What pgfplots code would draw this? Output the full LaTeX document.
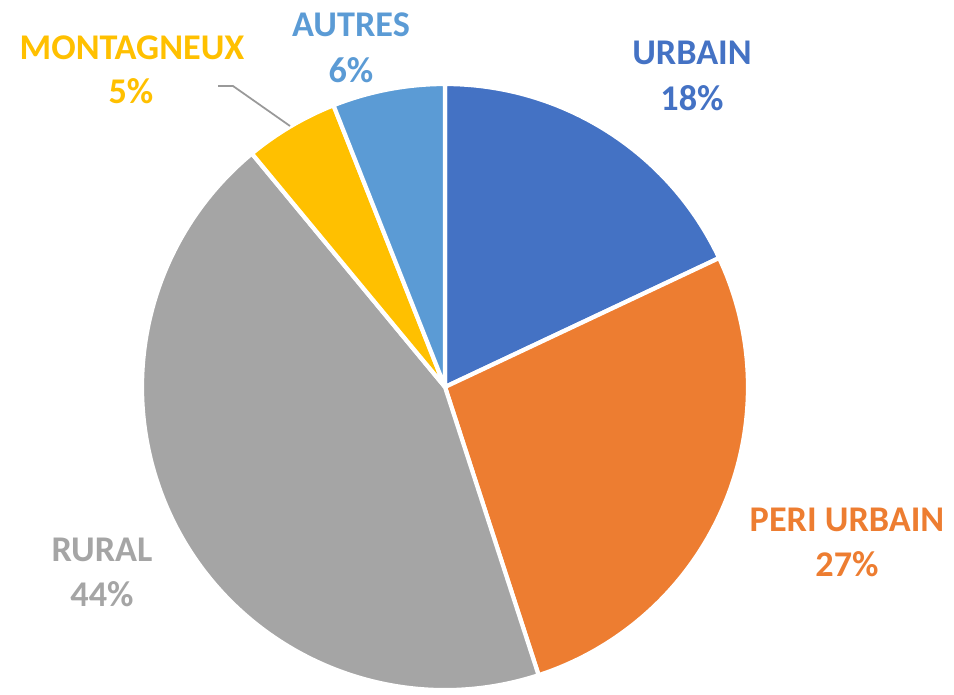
\documentclass[border=0pt]{standalone}
\usepackage{pgfplots}
\pgfplotsset{compat=1.18}
\usepackage{pgfplotstable}
\usepackage{fontspec}
\setmainfont{Carlito}
\definecolor{cUrb}{HTML}{4472C4}
\definecolor{cPeri}{HTML}{ED7D31}
\definecolor{cRur}{HTML}{A5A5A5}
\definecolor{cMont}{HTML}{FFC000}
\definecolor{cAut}{HTML}{5B9BD5}

% share of each area type, clockwise from the top
\pgfplotstableread{
label value col
URBAIN 18 cUrb
PERI 27 cPeri
RURAL 44 cRur
MONTAGNEUX 5 cMont
AUTRES 6 cAut
}\piedata

\newcommand{\lbl}[4]{% x, baseline y (px from top), colour, text
  \node[overlay, anchor=base, text=#3, font=\fontsize{10.3}{12}\selectfont\bfseries]
    at (axis cs:#1,{694-#2}) {#4};}

\begin{document}
\begin{tikzpicture}
\begin{axis}[
  scale only axis, width=9.54cm, height=6.94cm,
  xmin=0, xmax=954, ymin=0, ymax=694,
  axis lines=none, clip=false,
]
\path (axis cs:0,0) rectangle (axis cs:954,694);
\xdef\acc{90}
\foreach \i in {0,...,4} {
  \pgfplotstablegetelem{\i}{value}\of\piedata \let\v\pgfplotsretval
  \pgfplotstablegetelem{\i}{col}\of\piedata \let\c\pgfplotsretval
  \pgfmathsetmacro\aend{\acc-3.6*\v}
  \edef\temp{\noexpand\fill[overlay, \c, draw=white, line width=1.2pt, line join=round]
    (axis cs:445,307) -- (axis cs:{445+303*cos(\acc)},{307+303*sin(\acc)})
    arc[start angle=\acc, end angle=\aend, radius=3.03cm] -- cycle;}
  \temp
  \xdef\acc{\aend}
}
\draw[overlay, gray!80, line width=0.5pt] (axis cs:218,608) -- (axis cs:233,608) -- (axis cs:290,568);
\lbl{692}{64}{cUrb}{URBAIN}
\lbl{692}{110}{cUrb}{18\%}
\lbl{351}{36}{cAut}{AUTRES}
\lbl{351}{82}{cAut}{6\%}
\lbl{132}{59}{cMont}{MONTAGNEUX}
\lbl{131}{103}{cMont}{5\%}
\lbl{102}{561}{cRur}{RURAL}
\lbl{102}{606}{cRur}{44\%}
\lbl{847}{531}{cPeri}{PERI URBAIN}
\lbl{847}{576}{cPeri}{27\%}
\end{axis}
\end{tikzpicture}
\end{document}
